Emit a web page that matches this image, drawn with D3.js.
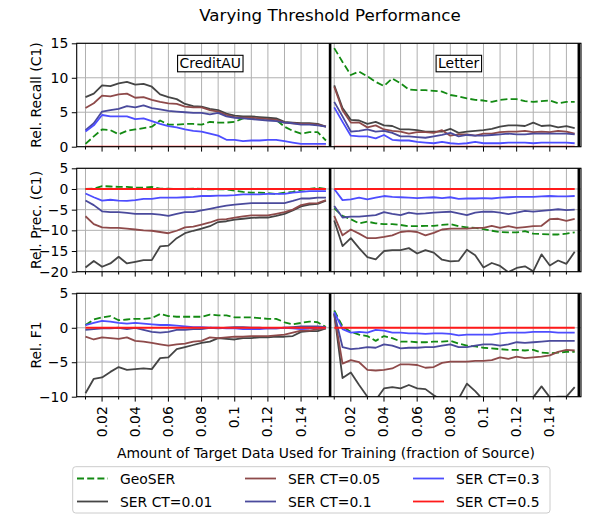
<!DOCTYPE html>
<html><head><meta charset="utf-8">
<script src="https://cdn.jsdelivr.net/npm/d3@7"></script>
<style>body{margin:0;background:#fff} text{font-family:"DejaVu Sans",sans-serif;fill:#000}</style>
</head><body><svg id="c" width="589" height="517"></svg>
<script>
// ---------- DATA ----------
const fractions = [0.01,0.015,0.02,0.025,0.03,0.035,0.04,0.045,0.05,0.055,0.06,0.065,0.07,0.075,0.08,0.085,0.09,0.095,0.1,0.105,0.11,0.115,0.12,0.125,0.13,0.135,0.14,0.145,0.15,0.155];
const datasetNames = ["CreditAU","Letter"];
const datasetOffsets = [0, 0.15];
const seriesNames = ["GeoSER","SER CT=0.01","SER CT=0.05","SER CT=0.1","SER CT=0.3","SER CT=0.5"];
const seriesColors = ["#138a13","#454545","#8e4a4a","#4a4a9c","#4d4dff","#ff1a1a"];
const metricLabels = ["Rel. Recall (C1)","Rel. Prec. (C1)","Rel. F1"];
const yDomains = [[0,15],[-20,5],[-10,5]];
const yTicks = [[0,5,10,15],[-20,-15,-10,-5,0,5],[-10,-5,0,5]];
const xMajorTicks = [0.02,0.04,0.06,0.08,0.1,0.12,0.14];
const xMajorLabels = ["0.02","0.04","0.06","0.08","0.1","0.12","0.14"];
const xMinorTicks = [0.01,0.03,0.05,0.07,0.09,0.11,0.13,0.15];
const zeros = [0,0,0,0,0,0,0,0,0,0,0,0,0,0,0,0,0,0,0,0,0,0,0,0,0,0,0,0,0,0];

// CreditAU recall
const recallCreditGeo  = [0.4,1.5,2.5,2.4,1.8,2.3,2.5,2.7,2.9,3.8,3.2,3.2,3.3,3.3,3.2,3.6,3.5,3.5,3.6,4.1,4.1,4.1,4.0,3.9,2.9,2.3,1.9,2.1,2.1,0.9];
const recallCredit001  = [7.2,7.7,8.9,8.8,9.2,9.4,9.0,9.1,8.7,7.6,7.2,6.9,6.2,5.9,5.8,5.5,5.3,4.8,4.5,4.4,4.4,4.3,4.2,4.1,3.6,3.5,3.4,3.4,3.3,2.9];
const recallCredit005  = [5.6,6.3,7.4,7.3,7.6,7.7,7.1,7.2,6.8,6.5,6.3,6.2,5.8,5.7,5.7,5.3,5.1,4.6,4.3,4.2,4.2,4.1,4.0,3.9,3.5,3.4,3.3,3.3,3.2,2.9];
const recallCredit01   = [2.4,3.4,5.1,5.3,5.5,5.9,5.7,6.0,5.6,5.4,5.2,5.1,5.0,4.9,4.9,4.7,4.9,4.4,4.2,4.1,4.0,3.9,3.8,3.7,3.5,3.4,3.2,3.2,3.1,2.9];
const recallCredit03   = [2.2,3.1,4.6,4.4,4.4,4.4,4.0,4.1,3.7,3.3,3.0,2.8,2.5,2.3,2.2,1.9,1.6,1.0,1.0,0.8,0.9,0.9,1.0,1.0,0.8,0.6,0.4,0.4,0.4,0.4];
const recallCredit05   = zeros;
// Letter recall
const recallLetterGeo  = [14.3,12.3,10.4,10.9,10.2,9.4,8.8,9.9,9.2,8.3,8.2,8.2,8.1,8.0,7.5,7.3,7.0,6.8,6.7,6.5,6.8,6.9,6.9,6.6,6.5,6.6,6.7,6.3,6.5,6.5];
const recallLetter001  = [8.9,5.6,3.9,3.8,3.3,3.6,3.1,3.0,2.5,2.5,2.4,2.2,2.2,2.2,2.6,2.0,2.2,2.3,2.4,2.6,2.9,3.1,3.1,3.0,3.5,3.0,3.1,2.8,3.0,2.7];
const recallLetter005  = [8.7,5.3,3.5,3.5,2.8,3.1,2.5,2.3,2.2,1.9,2.1,2.1,2.0,2.4,1.6,1.8,1.8,1.6,1.9,1.9,2.1,2.2,2.2,2.3,2.1,2.2,2.1,2.3,2.2,1.9];
const recallLetter01   = [6.5,4.4,2.2,2.3,2.5,2.2,2.3,2.0,1.5,1.5,1.4,1.3,1.5,1.7,2.0,1.5,1.7,1.6,1.6,1.7,1.8,1.9,1.8,1.8,1.9,1.9,1.9,1.9,1.9,1.8];
const recallLetter03   = [5.7,3.6,1.6,1.5,1.5,1.2,1.7,1.0,0.9,0.9,0.7,0.6,0.5,0.7,0.5,0.4,0.5,0.7,0.5,0.5,0.5,0.6,0.6,0.6,0.5,0.6,0.6,0.6,0.6,0.5];
const recallLetter05   = zeros;
// CreditAU precision
const precCreditGeo  = [0.0,0.1,0.7,0.6,0.5,0.5,0.3,0.3,0.5,0.1,0.1,0.0,0.0,0.1,0.0,-0.1,-0.1,-0.1,-0.4,-0.7,-0.9,-0.9,-1.0,-1.2,-0.9,-0.7,-0.2,0.0,0.3,0.0];
const precCredit001  = [-19.0,-17.4,-18.8,-18.0,-16.4,-18.0,-17.6,-17.2,-17.2,-13.9,-13.7,-11.9,-10.7,-10.1,-9.6,-9.0,-8.0,-7.8,-7.4,-7.2,-7.0,-6.9,-6.9,-6.5,-6.0,-5.2,-4.2,-3.8,-3.6,-2.8];
const precCredit005  = [-6.6,-8.5,-9.3,-9.4,-9.4,-9.6,-9.8,-10.0,-10.1,-10.4,-10.7,-10.1,-9.3,-9.1,-8.6,-8.1,-7.4,-7.3,-6.9,-6.6,-6.4,-6.4,-6.4,-6.0,-5.6,-5.0,-3.9,-3.5,-3.4,-2.7];
const precCredit01   = [-2.8,-3.9,-5.4,-5.6,-5.6,-5.8,-6.0,-6.0,-6.0,-6.2,-6.5,-6.0,-5.6,-5.6,-5.2,-4.8,-4.4,-4.0,-3.8,-3.6,-3.4,-3.4,-3.4,-3.4,-3.4,-2.9,-2.3,-2.3,-2.1,-2.1];
const precCredit03   = [-1.1,-2.0,-2.8,-2.6,-2.8,-2.9,-2.7,-2.4,-2.4,-2.1,-2.1,-2.1,-2.0,-1.9,-1.7,-1.7,-1.6,-1.6,-1.5,-1.3,-1.3,-1.3,-1.2,-1.2,-1.2,-0.9,-0.7,-0.5,-0.5,-0.5];
const precCredit05   = zeros;
// Letter precision
const precLetterGeo  = [-4.7,-6.5,-7.3,-8.3,-7.9,-8.3,-8.5,-8.5,-8.7,-9.0,-9.0,-8.9,-8.9,-8.7,-8.5,-9.0,-9.3,-9.4,-9.7,-10.1,-10.4,-10.5,-10.5,-10.2,-10.8,-10.9,-11.0,-11.0,-10.8,-10.5];
const precLetter001  = [-7.6,-13.8,-11.9,-14.3,-16.5,-17.0,-15.0,-14.8,-14.8,-14.3,-15.6,-14.8,-15.4,-17.1,-17.5,-17.4,-14.7,-16.0,-19.0,-17.9,-18.6,-20.1,-19.1,-18.7,-19.9,-15.8,-18.5,-17.3,-18.1,-15.2];
const precLetter005  = [-6.5,-11.2,-9.8,-10.8,-11.9,-11.9,-11.6,-11.2,-10.4,-10.2,-10.4,-11.2,-10.6,-9.8,-9.6,-9.6,-9.6,-9.4,-9.4,-8.9,-9.4,-9.0,-9.4,-9.2,-9.0,-8.9,-7.3,-7.2,-7.7,-7.2];
const precLetter01   = [-4.1,-6.9,-6.7,-6.7,-6.5,-6.3,-5.6,-6.0,-6.3,-5.7,-6.0,-5.9,-5.7,-5.6,-5.5,-5.9,-6.3,-5.7,-5.5,-5.5,-5.7,-6.1,-5.7,-5.3,-5.5,-5.3,-5.1,-4.9,-5.1,-5.0];
const precLetter03   = [0.0,-2.7,-2.5,-2.1,-2.5,-2.1,-1.7,-1.9,-2.0,-2.1,-2.2,-2.1,-2.0,-2.2,-2.0,-2.4,-2.3,-2.3,-2.2,-2.3,-2.1,-2.0,-1.9,-1.9,-1.9,-1.8,-1.7,-1.8,-1.8,-1.7];
const precLetter05   = zeros;
// CreditAU F1
const f1CreditGeo  = [0.4,1.2,1.5,1.7,1.1,1.2,1.3,1.3,1.4,2.0,1.7,1.6,1.6,1.6,1.6,1.9,1.8,1.8,1.5,1.5,1.5,1.4,1.3,1.3,0.8,0.5,0.7,0.9,0.8,0.1];
const f1Credit001  = [-9.5,-7.4,-7.2,-6.4,-5.7,-6.1,-6.0,-5.9,-6.0,-4.4,-4.3,-3.1,-2.8,-2.5,-2.2,-2.0,-1.5,-1.6,-1.7,-1.5,-1.5,-1.4,-1.4,-1.3,-1.3,-1.2,-0.6,-0.5,-0.5,-0.1];
const f1Credit005  = [-1.3,-1.7,-1.4,-1.5,-1.6,-1.4,-1.9,-2.0,-2.2,-2.4,-2.6,-2.4,-2.3,-2.0,-1.9,-1.4,-1.5,-1.4,-1.3,-1.3,-1.2,-1.2,-1.2,-1.1,-1.0,-0.7,-0.4,-0.4,-0.2,-0.1];
const f1Credit01   = [-0.3,-0.2,-0.1,-0.1,0.0,-0.2,0.0,-0.3,-0.6,-0.7,-0.6,-0.3,-0.3,-0.2,-0.2,0.0,-0.1,0.0,0.1,0.1,0.0,0.0,-0.1,-0.1,0.0,0.1,0.2,0.2,0.2,0.1];
const f1Credit03   = [0.4,0.7,1.0,0.9,0.7,0.6,0.7,0.6,0.5,0.4,0.4,0.3,0.2,0.1,0.1,0.0,0.0,-0.1,-0.1,-0.2,-0.2,-0.2,-0.1,-0.1,0.0,-0.1,-0.2,-0.1,0.0,0.0];
const f1Credit05   = zeros;
// Letter F1
const f1LetterGeo  = [2.5,0.2,-0.6,-1.0,-1.2,-1.9,-1.2,-1.5,-2.0,-2.0,-2.1,-2.1,-2.0,-2.0,-1.9,-2.3,-2.6,-2.7,-2.9,-3.0,-3.1,-3.2,-3.2,-3.3,-3.2,-3.6,-3.7,-3.6,-3.5,-3.5];
const f1Letter001  = [2.1,-7.3,-6.5,-8.3,-10.0,-10.5,-8.8,-8.6,-8.8,-8.3,-8.8,-8.9,-9.8,-10.5,-11.0,-10.3,-8.1,-9.2,-10.5,-11.0,-11.2,-11.2,-11.4,-11.2,-10.1,-8.5,-10.1,-10.0,-10.0,-8.6];
const f1Letter005  = [2.0,-5.2,-4.7,-5.0,-6.1,-6.2,-6.1,-5.9,-5.3,-5.3,-5.4,-5.8,-5.7,-5.1,-4.9,-4.9,-4.9,-4.8,-4.8,-4.7,-4.3,-4.5,-4.2,-4.4,-4.3,-4.2,-4.0,-3.5,-3.2,-3.3];
const f1Letter01   = [2.1,-2.8,-3.1,-3.0,-2.8,-2.9,-2.4,-2.6,-3.0,-2.9,-2.9,-2.8,-2.8,-2.6,-2.4,-2.8,-2.8,-2.6,-2.4,-2.4,-2.6,-2.4,-2.1,-2.2,-2.1,-2.0,-1.9,-1.9,-1.9,-1.9];
const f1Letter03   = [2.3,-0.2,-0.7,-0.6,-0.7,-0.3,-0.4,-0.7,-0.7,-0.8,-0.8,-0.9,-0.8,-0.8,-0.9,-1.1,-1.0,-1.0,-1.0,-1.0,-0.8,-0.7,-0.7,-0.7,-0.6,-0.6,-0.6,-0.7,-0.7,-0.7];
const f1Letter05   = zeros;

const panelSeries = [
  [[recallCreditGeo,recallCredit001,recallCredit005,recallCredit01,recallCredit03,recallCredit05],
   [recallLetterGeo,recallLetter001,recallLetter005,recallLetter01,recallLetter03,recallLetter05]],
  [[precCreditGeo,precCredit001,precCredit005,precCredit01,precCredit03,precCredit05],
   [precLetterGeo,precLetter001,precLetter005,precLetter01,precLetter03,precLetter05]],
  [[f1CreditGeo,f1Credit001,f1Credit005,f1Credit01,f1Credit03,f1Credit05],
   [f1LetterGeo,f1Letter001,f1Letter005,f1Letter01,f1Letter03,f1Letter05]]
];

// ---------- LAYOUT ----------
const svg = d3.select("#c");
const L = 76.7, R = 581;
const panelTops = [43.3, 168.3, 293.3];
const panelH = 103.4;
const x = d3.scaleLinear().domain([0.0047, 0.3088]).range([L, R]);
const FS = 13.9;

svg.append("text").attr("x", 330).attr("y", 21).attr("text-anchor","middle")
  .style("font-size","16.7px").text("Varying Threshold Performance");

const defs = svg.append("defs");
const allMinor = [], allMajor = [];
datasetOffsets.forEach(off => {
  xMinorTicks.forEach(t => allMinor.push(t + off));
  xMajorTicks.forEach((t,i) => allMajor.push({v: t + off, label: xMajorLabels[i]}));
});

metricLabels.forEach((lab, p) => {
  const top = panelTops[p], bot = top + panelH;
  const y = d3.scaleLinear().domain(yDomains[p]).range([bot, top]);
  const g = svg.append("g");
  defs.append("clipPath").attr("id","clip"+p).append("rect")
    .attr("x", L).attr("y", top).attr("width", R-L).attr("height", panelH);

  // grid
  const grid = g.append("g").attr("stroke","#b0b0b0").attr("stroke-width",1);
  allMinor.concat(allMajor.map(d=>d.v)).forEach(v => {
    grid.append("line").attr("x1",x(v)).attr("x2",x(v)).attr("y1",top).attr("y2",bot);
  });
  yTicks[p].forEach(v => {
    grid.append("line").attr("x1",L).attr("x2",R).attr("y1",y(v)).attr("y2",y(v));
  });

  // lines
  const lg = g.append("g").attr("clip-path","url(#clip"+p+")");
  datasetOffsets.forEach((off, d) => {
    panelSeries[p][d].forEach((vals, s) => {
      const line = d3.line().x((v,i)=>x(fractions[i]+off)).y(v=>y(v));
      lg.append("path").datum(vals).attr("d", line).attr("fill","none")
        .attr("stroke", seriesColors[s]).attr("stroke-width",1.8)
        .attr("stroke-linejoin","round")
        .attr("stroke-dasharray", s===0 ? "7,3.2" : null);
    });
  });
  // thick separators
  [0.1575, 0.3075].forEach(v => {
    g.append("line").attr("x1",x(v)).attr("x2",x(v)).attr("y1",top).attr("y2",bot)
      .attr("stroke","#000").attr("stroke-width",2.6);
  });

  // y axis
  const ya = d3.axisLeft(y).tickValues(yTicks[p]).tickSize(4.9).tickPadding(3.5)
    .tickFormat(v => d3.format("")(v).replace("-","\u2212"));
  const yg = g.append("g").attr("transform",`translate(${L},0)`).call(ya);
  yg.select(".domain").remove();
  yg.selectAll("text").style("font-size",FS+"px").style("font-family","DejaVu Sans");
  yg.selectAll("line").attr("stroke","#000").attr("stroke-width",1);

  // x axis ticks
  const xg = g.append("g").attr("transform",`translate(0,${bot})`);
  allMinor.forEach(v => xg.append("line").attr("x1",x(v)).attr("x2",x(v)).attr("y1",0).attr("y2",2.8).attr("stroke","#000"));
  allMajor.forEach(d => xg.append("line").attr("x1",x(d.v)).attr("x2",x(d.v)).attr("y1",0).attr("y2",4.9).attr("stroke","#000"));
  if (p === 2) {
    allMajor.forEach(d => {
      xg.append("text").attr("transform",`translate(${x(d.v)+4.5},${9.5}) rotate(-90)`)
        .attr("text-anchor","end").style("font-size",FS+"px").text(d.label);
    });
  }

  // frame
  g.append("rect").attr("x",L).attr("y",top).attr("width",R-L).attr("height",panelH)
    .attr("fill","none").attr("stroke","#000").attr("stroke-width",1.1);

  // y label
  svg.append("text").attr("transform",`translate(${41},${top+panelH/2}) rotate(-90)`)
    .attr("text-anchor","middle").style("font-size",FS+"px").text(lab);

  // dataset name boxes in first row
  if (p === 0) {
    const boxes = [{name: datasetNames[0], cx: 210.3}, {name: datasetNames[1], cx: 458.7}];
    boxes.forEach(b => {
      const t = svg.append("text").attr("x",b.cx).attr("y",top+24.3).attr("text-anchor","middle")
        .style("font-size",FS+"px").text(b.name);
      const bb = t.node().getBBox();
      svg.insert("rect", () => t.node()).attr("x",bb.x-2).attr("y",top+12).attr("width",bb.width+4).attr("height",16.5)
        .attr("fill","#fff").attr("stroke","#000").attr("stroke-width",1.1);
    });
  }
});

// x label
svg.append("text").attr("x",326).attr("y",458).attr("text-anchor","middle")
  .style("font-size",FS+"px").text("Amount of Target Data Used for Training (fraction of Source)");

// legend
const leg = svg.append("g");
leg.append("rect").attr("x",72.7).attr("y",466.7).attr("width",477.3).attr("height",46.3)
  .attr("rx",3).attr("fill","#fff").attr("stroke","#cccccc").attr("stroke-width",1);
const colX = [77, 245, 413];
const rowY = [478.5, 501.5];
seriesNames.forEach((n, i) => {
  const c = Math.floor(i/2), r = i%2;
  leg.append("line").attr("x1",colX[c]).attr("x2",colX[c]+31).attr("y1",rowY[r]).attr("y2",rowY[r])
    .attr("stroke",seriesColors[i]).attr("stroke-width",1.8)
    .attr("stroke-dasharray", i===0 ? "7,3.2" : null);
  leg.append("text").attr("x",colX[c]+43).attr("y",rowY[r]+5).style("font-size",FS+"px").text(n);
});
</script></body></html>
